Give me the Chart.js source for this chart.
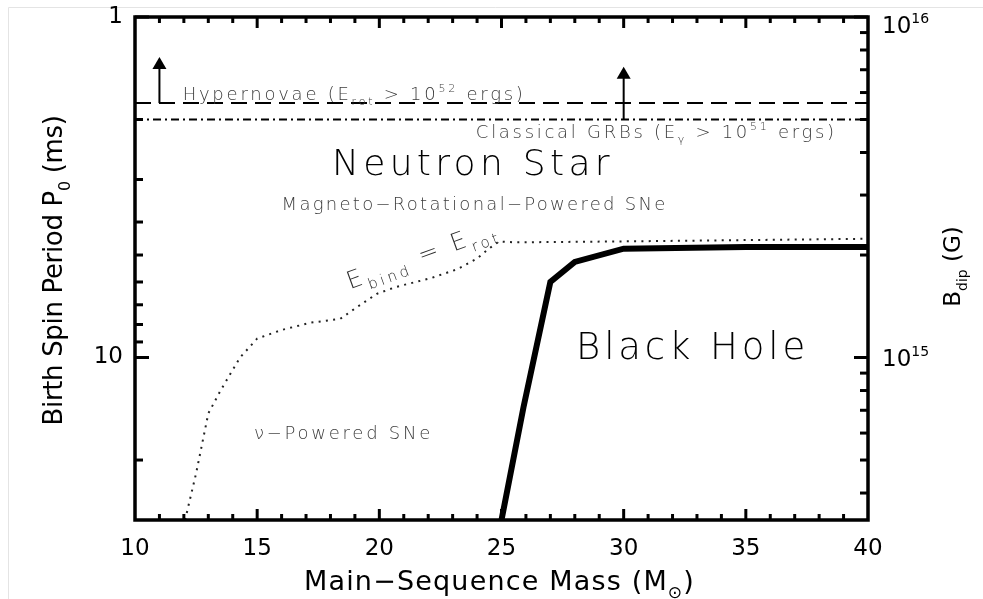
<!DOCTYPE html>
<html>
<head>
<meta charset="utf-8">
<script src="https://cdn.jsdelivr.net/npm/chart.js@4.4.1/dist/chart.umd.min.js"></script>
<style>
  html, body { margin: 0; padding: 0; background: #fff; }
  canvas { display: block; }
</style>
</head>
<body>
<canvas id="chartRegions" width="983" height="599"></canvas>
<script>
// axis ticks
const massTicks = [10, 15, 20, 25, 30, 35, 40];
const periodTicks = [1, 10];
const periodMinor = [2, 3, 4, 5, 6, 7, 8, 9, 20];
const fieldTicks = [1e15, 1e16];
const fieldMinor = [4e14, 5e14, 6e14, 7e14, 8e14, 9e14, 2e15, 3e15, 4e15, 5e15, 6e15, 7e15, 8e15, 9e15];

// E_bind = E_rot (dotted)
const bindMass = [12.05, 12.5, 13.0, 13.5, 14.3, 15.0, 16.0, 17.2, 18.4, 19.1, 19.9, 20.7, 22.1, 23.2, 24.0, 24.5, 24.9, 25.5, 30.0, 40.0];
const bindPeriod = [30, 21.9, 14.6, 12.5, 10.0, 8.8, 8.3, 7.9, 7.7, 7.1, 6.5, 6.2, 5.85, 5.5, 5.12, 4.78, 4.56, 4.59, 4.56, 4.48];

// black hole boundary (thick)
const bhMass = [25.0, 25.9, 27.0, 28.0, 30.0, 35.0, 40.0];
const bhPeriod = [30, 14.0, 6.0, 5.24, 4.79, 4.74, 4.74];

// thresholds
const hypernovaPeriod = 1.79;
const grbPeriod = 2.0;

// arrows
const arrowMass = [11, 30];
const arrowBase = [1.79, 2.0];
const arrowTip = [1.31, 1.40];

const FONT = "'DejaVu Sans', sans-serif";
const toPoints = (xs, ys) => xs.map((x, i) => ({ x, y: ys[i] }));

// text with sub (1) / superscript (2) parts, stretched to a width
const drawRich = (ctx, parts, x, y, size, opts = {}) => {
    const { width, align = 'left', angle = 0, color = '#000', weight = 'normal' } = opts;
    const small = Math.round(size * 0.62);
    const fontFor = kind => `${weight} ${kind ? small : size}px ${FONT}`;
    ctx.save();
    ctx.letterSpacing = '0px';
    let natural = 0;
    let chars = 0;
    const items = parts.map(p => {
        const [text, kind] = typeof p === 'string' ? [p, 0] : p;
        ctx.font = fontFor(kind);
        const w = ctx.measureText(text).width;
        const n = [...text].length;
        natural += w;
        chars += n;
        return { text, kind, w, n };
    });
    const spacing = width ? (width - natural) / chars : 0;
    const total = natural + spacing * chars;
    ctx.translate(x, y);
    ctx.rotate(angle * Math.PI / 180);
    let cx = align === 'center' ? -total / 2 : 0;
    ctx.fillStyle = color;
    ctx.textAlign = 'left';
    ctx.textBaseline = 'alphabetic';
    ctx.letterSpacing = spacing + 'px';
    items.forEach(it => {
        ctx.font = fontFor(it.kind);
        const dy = it.kind === 1 ? size * 0.3 : it.kind === 2 ? -size * 0.42 : 0;
        ctx.fillText(it.text, cx, dy);
        cx += it.w + spacing * it.n;
    });
    ctx.restore();
};

const notes = [
    { parts: ['Hypernovae (E', ['rot', 1], ' > 10', ['52', 2], ' ergs)'], m: 11.95, p: 1.75, size: 18, width: 343, color: '#3c3c3c', weight: 200 },
    { parts: ['Classical GRBs (E', ['γ', 1], ' > 10', ['51', 2], ' ergs)'], m: 23.95, p: 2.26, size: 18, width: 361, color: '#3c3c3c', weight: 200 },
    { parts: ['Neutron Star'], m: 18.06, p: 2.92, size: 36, width: 282, color: '#000', weight: 200 },
    { parts: ['Magneto−Rotational−Powered SNe'], m: 16.0, p: 3.70, size: 18, width: 386, color: '#3c3c3c', weight: 200 },
    { parts: ['E', ['bind', 1], ' = E', ['rot', 1]], m: 18.8, p: 6.3, size: 24, width: 160, angle: -20, color: '#2e2e2e', weight: 200 },
    { parts: ['Black Hole'], m: 28.05, p: 10.07, size: 37, width: 233, color: '#000', weight: 200 },
    { parts: ['ν−Powered SNe'], m: 14.87, p: 17.3, size: 18, width: 179, color: '#3c3c3c', weight: 200 }
];

const regionPlugin = {
    id: 'regionPlugin',
    beforeDraw(chart) {
        const { ctx, width, height } = chart;
        ctx.save();
        ctx.fillStyle = '#fff';
        ctx.fillRect(0, 0, width, height);
        ctx.strokeStyle = '#e4e4e4';
        ctx.lineWidth = 1;
        ctx.beginPath();
        ctx.moveTo(8.5, height);
        ctx.lineTo(8.5, 7.5);
        ctx.lineTo(width, 7.5);
        ctx.stroke();
        ctx.restore();
    },
    afterDatasetsDraw(chart) {
        const { ctx, chartArea: a, scales } = chart;
        const { x, y, y2 } = scales;
        ctx.save();

        // arrows
        ctx.strokeStyle = '#000';
        ctx.fillStyle = '#000';
        ctx.lineWidth = 2;
        arrowMass.forEach((m, i) => {
            const px = x.getPixelForValue(m);
            const yb = y.getPixelForValue(arrowBase[i]);
            const yt = y.getPixelForValue(arrowTip[i]);
            ctx.beginPath();
            ctx.moveTo(px, yb);
            ctx.lineTo(px, yt + 10);
            ctx.stroke();
            ctx.beginPath();
            ctx.moveTo(px, yt);
            ctx.lineTo(px - 7, yt + 12);
            ctx.lineTo(px + 7, yt + 12);
            ctx.closePath();
            ctx.fill();
        });

        // frame with inward ticks
        ctx.lineWidth = 3;
        ctx.lineCap = 'butt';
        const line = (x1, y1, x2, y2_) => {
            ctx.beginPath();
            ctx.moveTo(x1, y1);
            ctx.lineTo(x2, y2_);
            ctx.stroke();
        };
        for (let m = 11; m < 40; m++) {
            const px = x.getPixelForValue(m);
            const len = m % 5 === 0 ? 11 : 6;
            line(px, a.bottom, px, a.bottom - len);
            line(px, a.top, px, a.top + len);
        }
        periodTicks.concat(periodMinor).forEach(p => {
            const py = y.getPixelForValue(p);
            const len = periodTicks.includes(p) ? 14 : 8;
            line(a.left, py, a.left + len, py);
        });
        fieldTicks.concat(fieldMinor).forEach(b => {
            const py = y2.getPixelForValue(b);
            const len = fieldTicks.includes(b) ? 14 : 8;
            line(a.right, py, a.right - len, py);
        });
        ctx.lineWidth = 3.5;
        ctx.strokeRect(a.left, a.top, a.right - a.left, a.bottom - a.top);

        // right axis labels
        fieldTicks.forEach(b => {
            const py = Math.max(y2.getPixelForValue(b), a.top + 7);
            const exp = String(Math.round(Math.log10(b)));
            drawRich(ctx, ['10', [exp, 2]], a.right + 14, py + 8.5, 23);
        });

        // region labels
        notes.forEach(n => {
            drawRich(ctx, n.parts, x.getPixelForValue(n.m), y.getPixelForValue(n.p), n.size, n);
        });

        // axis titles
        const midX = (a.left + a.right) / 2;
        const midY = (a.top + a.bottom) / 2;
        drawRich(ctx, ['Main−Sequence Mass (M', ['⊙', 1], ')'], midX - 2, a.bottom + 70, 27, { width: 391, align: 'center' });
        drawRich(ctx, ['Birth Spin Period P', ['0', 1], ' (ms)'], a.left - 73, midY + 2, 26, { width: 310, align: 'center', angle: -90 });
        drawRich(ctx, ['B', ['dip', 1], ' (G)'], a.right + 92, midY - 2, 23, { align: 'center', angle: -90 });
        ctx.restore();
    }
};

const hidden = { display: false, drawTicks: false };
const fixWidth = w => s => {
    s.width = w;
    s.paddingTop = 0;
    s.paddingBottom = 0;
};

new Chart(document.getElementById('chartRegions'), {
    type: 'line',
    data: {
        datasets: [
            {
                data: toPoints([10, 40], [hypernovaPeriod, hypernovaPeriod]),
                borderColor: '#000', borderWidth: 2, borderDash: [16, 8], yAxisID: 'y'
            },
            {
                data: toPoints([10, 40], [grbPeriod, grbPeriod]),
                borderColor: '#000', borderWidth: 2, borderDash: [8, 4, 2, 4], yAxisID: 'y'
            },
            {
                data: toPoints(bindMass, bindPeriod),
                borderColor: '#222', borderWidth: 2, borderDash: [2, 5.3], yAxisID: 'y'
            },
            {
                data: toPoints(bhMass, bhPeriod),
                borderColor: '#000', borderWidth: 6, yAxisID: 'y'
            }
        ]
    },
    options: {
        responsive: false,
        animation: false,
        layout: { padding: { top: 17, left: 0, right: 0, bottom: 0 } },
        elements: { point: { radius: 0 }, line: { tension: 0, fill: false } },
        plugins: { legend: { display: false }, tooltip: { enabled: false } },
        scales: {
            x: {
                type: 'linear', min: 10, max: 40,
                afterBuildTicks: s => { s.ticks = massTicks.map(v => ({ value: v })); },
                ticks: { font: { family: FONT, size: 23 }, color: '#000', padding: 15, maxRotation: 0, autoSkip: false },
                grid: hidden,
                border: { display: false },
                afterFit: s => { s.height = 79; }
            },
            y: {
                type: 'logarithmic', reverse: true, min: 1, max: 30, position: 'left',
                afterBuildTicks: s => { s.ticks = periodTicks.map(v => ({ value: v })); },
                ticks: { callback: v => String(v), font: { family: FONT, size: 23 }, color: '#000', padding: 12 },
                grid: hidden,
                border: { display: false },
                afterFit: fixWidth(135)
            },
            y2: {
                type: 'logarithmic', min: 1e16 / 30, max: 1e16, position: 'right',
                afterBuildTicks: s => { s.ticks = fieldTicks.map(v => ({ value: v })); },
                ticks: { display: false },
                grid: hidden,
                border: { display: false },
                afterFit: fixWidth(115)
            }
        }
    },
    plugins: [regionPlugin]
});
</script>
</body>
</html>
